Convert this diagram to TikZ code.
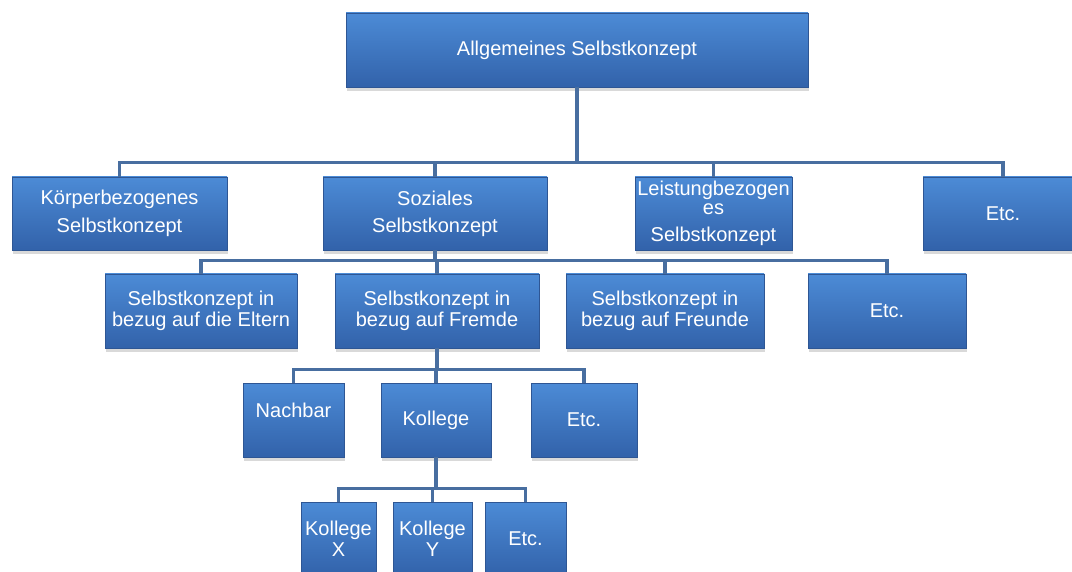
\documentclass[tikz,border=0pt]{standalone}
\usepackage{fontspec}
\setmainfont{Liberation Sans}
\usetikzlibrary{shadows}
\definecolor{boxtop}{RGB}{76,139,214}
\definecolor{boxbot}{RGB}{50,98,170}
\definecolor{boxline}{RGB}{46,86,148}
\definecolor{linkblue}{RGB}{72,110,160}

\begin{document}
\begin{tikzpicture}[x=1pt, y=-1pt]
    \tikzstyle{every node}=[rectangle, minimum height=74pt, top color=boxtop, bottom color=boxbot, draw=boxline, line width=0.6pt, text=white, align=center, inner sep=1pt, font=\fontsize{20}{21}\selectfont, drop shadow={shadow xshift=1pt, shadow yshift=-4pt, opacity=.3}]
    \tikzstyle{link}=[draw=linkblue, line width=3.5pt]

    \useasboundingbox (0,0) rectangle (1072,572);

    \node[minimum width=462pt] (top) at (577,50) {Allgemeines Selbstkonzept};

    \node[minimum width=215pt, minimum height=73pt] (koerper) at (119.5,213.5) {Körperbezogenes\\[7pt]Selbstkonzept};
    \node[minimum width=224pt, minimum height=73pt] (sozial) at (435,213.5) {Soziales\\[6pt]Selbstkonzept};
    \node[minimum width=157pt, minimum height=73pt] (leistung) at (713.5,213.5) {Leistungbezogen\\[-2pt]es\\[6pt]Selbstkonzept};
    \node[minimum width=160pt, minimum height=73pt] (etcA) at (1003,213.5) {Etc.};

    \node[minimum width=192pt] (eltern) at (201,311) {Selbstkonzept in\\bezug auf die Eltern};
    \node[minimum width=204pt] (fremde) at (437,311) {Selbstkonzept in\\bezug auf Fremde};
    \node[minimum width=198pt] (freunde) at (665,311) {Selbstkonzept in\\bezug auf Freunde};
    \node[minimum width=158pt] (etcB) at (887,311) {Etc.};

    \node[minimum width=101pt] (nachbar) at (293.5,420) {\raisebox{10pt}[\height][\depth]{Nachbar}};
    \node[minimum width=110pt] (kollege) at (436,420) {Kollege};
    \node[minimum width=106pt] (etcC) at (584,420) {Etc.};

    \node[minimum width=75pt] (kollegeX) at (338.5,539) {Kollege\\X};
    \node[minimum width=79pt] (kollegeY) at (432.5,539) {Kollege\\Y};
    \node[minimum width=81pt] (etcD) at (525.5,539) {Etc.};

    \foreach \c in {koerper,sozial,leistung,etcA}
      \draw[link] (top.south) -- ++(0,75) -| (\c.north);
    \foreach \c in {eltern,fremde,freunde,etcB}
      \draw[link] (sozial.south) -- ++(0,10) -| (\c.north);
    \foreach \c in {nachbar,kollege,etcC}
      \draw[link] (fremde.south) -- ++(0,21) -| (\c.north);
    \foreach \c in {kollegeX,kollegeY,etcD}
      \draw[link] (kollege.south) -- ++(0,31) -| (\c.north);
\end{tikzpicture}
\end{document}
